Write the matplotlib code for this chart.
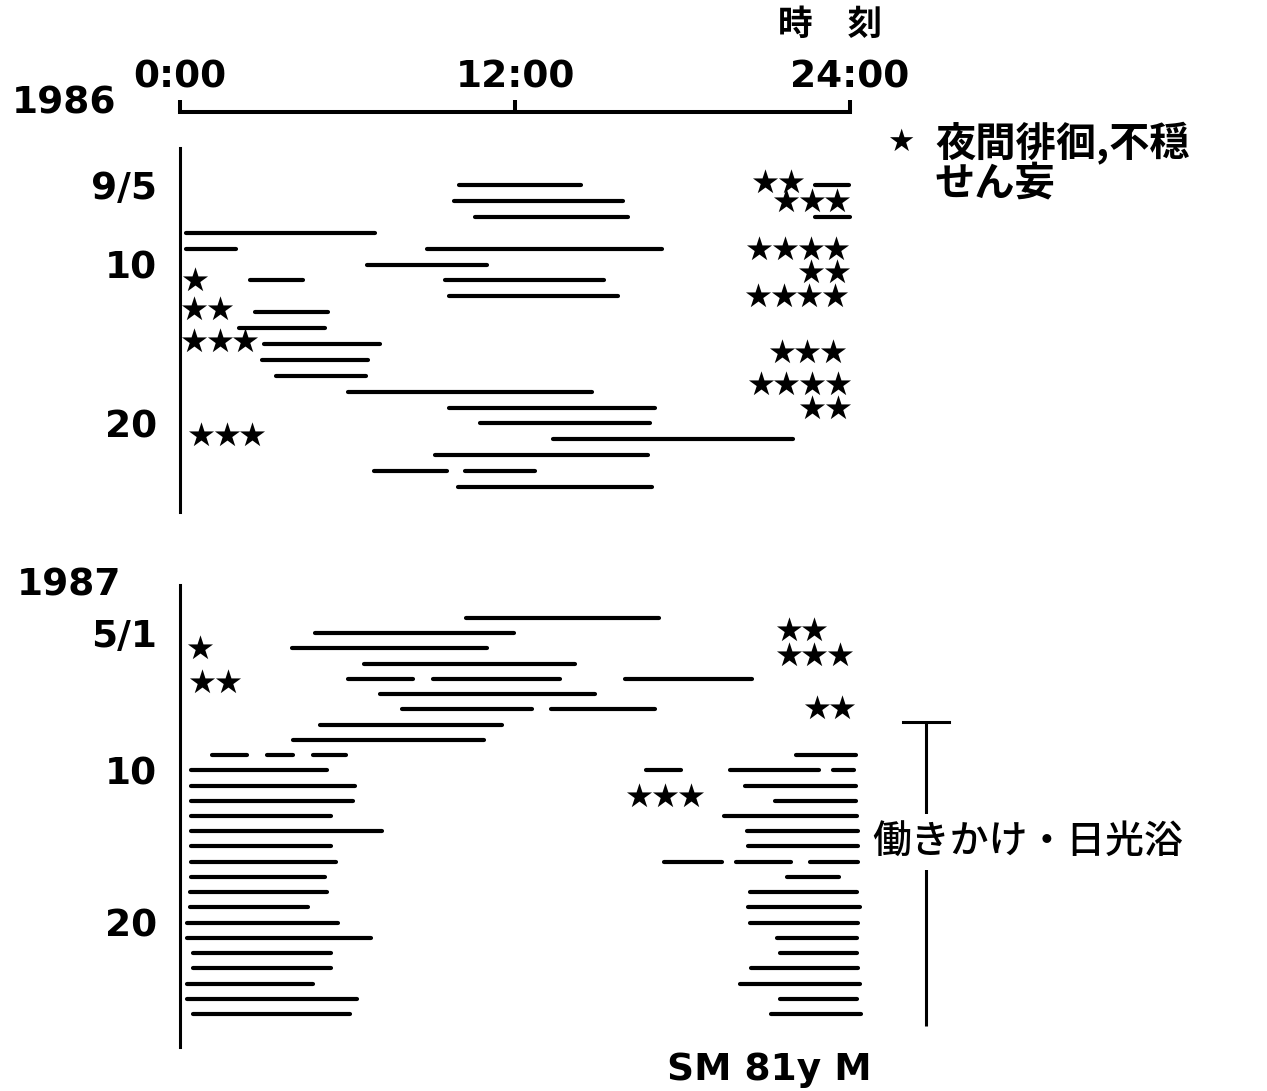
import matplotlib
matplotlib.use('Agg')
import matplotlib.pyplot as plt

W, H, DPI = 1267, 1091, 100
JP = ['Noto Sans CJK JP', 'DejaVu Sans']
NUM = ['DejaVu Sans']

# ---------------- data ----------------
time_ticks = [0, 12, 24]
time_labels = ['0:00', '12:00', '24:00']

# 1986 panel: row = day - 5  (9/5 ... 9/24)
y86_ticks = [0, 5, 15]
y86_labels = ['9/5', '10', '20']
sleep86_row = [0, 0, 1, 2, 2, 3, 4, 4, 5, 6, 6, 7, 8, 9, 10, 11, 12, 13, 14, 15, 16, 17, 18, 18, 19]
sleep86_start = [10.0, 22.75, 9.8, 10.55, 22.75, 0.2, 0.2, 8.85, 6.7, 2.5, 9.5, 9.65, 2.7, 2.1,
                 3.0, 2.95, 3.45, 6.0, 9.65, 10.75, 13.35, 9.15, 6.95, 10.2, 9.95]
sleep86_end = [14.35, 23.95, 15.85, 16.05, 24.0, 7.0, 2.0, 17.25, 11.0, 4.4, 15.2, 15.7, 5.3, 5.2,
               7.15, 6.75, 6.65, 14.75, 17.0, 16.85, 21.95, 16.75, 9.55, 12.7, 16.9]
stars86_row = [-0.2, 1, 4, 5.5, 7, 10.5, 12.5, 14, 6, 7.8, 9.8, 15.7]
stars86_first = [20.95, 21.7, 20.75, 22.6, 20.7, 21.55, 20.8, 22.65, 0.55, 0.5, 0.5, 0.75]
stars86_count = [2, 3, 4, 2, 4, 3, 4, 2, 1, 2, 3, 3]

# 1987 panel: row = day of May (row 0 = 4/30)
y87_ticks = [1, 10, 20]
y87_labels = ['5/1', '10', '20']
sleep87_row = [0, 1, 2, 3, 4, 4, 4, 5, 6, 6, 7, 8,
               9, 9, 9, 9,
               10, 10, 10, 10,
               11, 11, 12, 12, 13, 13, 14, 14, 15, 15,
               16, 16, 16, 16,
               17, 17, 18, 18, 19, 19, 20, 20, 21, 21, 22, 22, 23, 23, 24, 24, 25, 25, 26, 26]
sleep87_start = [10.25, 4.85, 4.0, 6.6, 6.0, 9.05, 15.95, 7.15, 7.95, 13.3, 5.0, 4.05,
                 1.15, 3.1, 4.75, 22.05,
                 0.4, 16.7, 19.7, 23.4,
                 0.4, 20.25, 0.4, 21.3, 0.4, 19.5, 0.4, 20.3, 0.4, 20.35,
                 0.4, 17.35, 19.9, 22.55,
                 0.4, 21.75, 0.35, 20.4, 0.35, 20.35, 0.25, 20.4, 0.25, 21.4, 0.45, 21.5,
                 0.45, 20.45, 0.25, 20.05, 0.25, 21.5, 0.45, 21.15]
sleep87_end = [17.15, 11.95, 11.0, 14.15, 8.35, 13.6, 20.5, 14.85, 12.6, 17.0, 11.55, 10.9,
               2.4, 4.05, 5.95, 24.2,
               5.25, 17.95, 22.9, 24.15,
               6.25, 24.2, 6.2, 24.2, 5.4, 24.25, 7.25, 24.3, 5.4, 24.3,
               5.6, 19.4, 21.9, 24.3,
               5.2, 23.6, 5.25, 24.25, 4.6, 24.35, 5.65, 24.3, 6.85, 24.25, 5.4, 24.25,
               5.4, 24.3, 4.75, 24.35, 6.35, 24.25, 6.1, 24.4]
stars87_row = [0.8, 2, 2.4, 4.2, 5.9, 11.7]
stars87_first = [21.8, 0.7, 21.8, 0.8, 22.8, 16.45]
stars87_count = [2, 1, 3, 2, 2, 3]

intervention_rows = (6.8, 26.8)   # 働きかけ・日光浴 period (bottom panel rows)

# ---------------- layout / style ----------------
HOUR_PX = 27.92
X0_PX = 180
STAR_PITCH = 0.92
BAR_LW = 3.0
STAR_MS = 19


def fx(px):
    return px / W


def fy(py):
    return 1 - py / H


fig = plt.figure(figsize=(W / DPI, H / DPI), dpi=DPI)
fig.patch.set_facecolor('white')

ax_w = 25 * HOUR_PX / W
ax1 = fig.add_axes([fx(X0_PX), fy(512), ax_w, 364 / H])
ax2 = fig.add_axes([fx(X0_PX), fy(1047), ax_w, 462 / H])
ax1.set_xlim(0, 25)
ax1.set_ylim(20.57, -2.33)
ax2.set_xlim(0, 25)
ax2.set_ylim(28.17, -2.17)


def draw_panel(ax, rows, starts, ends, srow, sfirst, scount):
    ax.hlines(rows, starts, ends, colors='black', linewidth=BAR_LW, capstyle='round')
    xs, ys = [], []
    for r, f, n in zip(srow, sfirst, scount):
        for i in range(n):
            xs.append(f + STAR_PITCH * i)
            ys.append(r)
    ax.scatter(xs, ys, marker='*', s=STAR_MS ** 2, color='black', linewidths=0, clip_on=False)


draw_panel(ax1, sleep86_row, sleep86_start, sleep86_end, stars86_row, stars86_first, stars86_count)
draw_panel(ax2, sleep87_row, sleep87_start, sleep87_end, stars87_row, stars87_first, stars87_count)

for ax in (ax1, ax2):
    ax.set_facecolor('none')
    for s in ('right', 'bottom'):
        ax.spines[s].set_visible(False)
    ax.spines['left'].set_linewidth(2.2)
    ax.tick_params(axis='y', length=0, pad=16.5, labelsize=27)

# time axis on top of the 1986 panel
ax1.spines['top'].set_position(('outward', 36 * 72 / DPI))
ax1.spines['top'].set_bounds(0, 24)
ax1.spines['top'].set_linewidth(2.9)
ax1.xaxis.set_ticks_position('top')
ax1.set_xticks(time_ticks, time_labels)
ax1.tick_params(axis='x', direction='out', length=8.6, width=2.9, pad=3, labelsize=27)
ax2.spines['top'].set_visible(False)
ax2.set_xticks([])

ax1.set_yticks(y86_ticks, y86_labels)
ax2.set_yticks(y87_ticks, y87_labels)
for ax in (ax1, ax2):
    for lab in ax.get_xticklabels() + ax.get_yticklabels():
        lab.set_fontweight('bold')
        lab.set_family(NUM)

# bracket for intervention period
bx = (926 - X0_PX) / HOUR_PX
bh = 23 / HOUR_PX
ax2.plot([bx, bx], list(intervention_rows), color='black', lw=2.2, clip_on=False, solid_capstyle='butt')
ax2.plot([bx - bh, bx + bh], [intervention_rows[0]] * 2, color='black', lw=2.2, clip_on=False)
ax2.text((872 - X0_PX) / HOUR_PX, (842 - 618) / 15.23, '働きかけ・日光浴', family=JP, fontsize=28,
         fontweight='medium', va='center', ha='left', clip_on=False,
         bbox=dict(boxstyle='square,pad=0.2', facecolor='white', edgecolor='none'))

# free texts
fig.text(fx(830), fy(24), '時\u3000刻', family=JP, fontsize=25, fontweight='bold', ha='center', va='center')
fig.text(fx(12), fy(103), '1986', family=NUM, fontsize=27, fontweight='bold', ha='left', va='center')
fig.text(fx(17), fy(585), '1987', family=NUM, fontsize=27, fontweight='bold', ha='left', va='center')
fig.text(fx(901), fy(142), '★', family=NUM, fontsize=22, ha='center', va='center')
fig.text(fx(935), fy(122), '夜間徘徊,不穏\nせん妄', family=JP, fontsize=29, fontweight='bold',
         ha='left', va='top', linespacing=0.95)
fig.text(fx(769), fy(1070), 'SM 81y M', family=NUM, fontsize=27, fontweight='bold', ha='center', va='center')

fig.savefig('out.png', dpi=DPI, facecolor='white')
